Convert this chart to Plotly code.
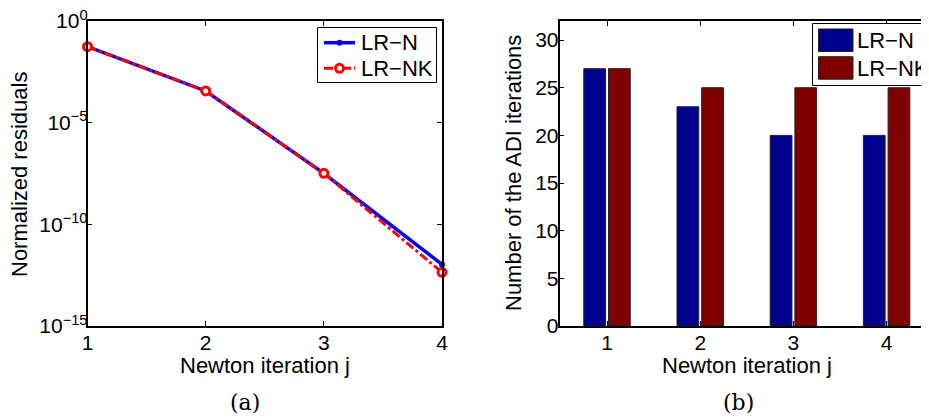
import plotly.graph_objects as go

# ---- data ----
iterations = [1, 2, 3, 4]
res_lrn = [10**-1.26, 10**-3.44, 10**-7.49, 10**-11.97]
res_lrnk = [10**-1.26, 10**-3.44, 10**-7.49, 10**-12.36]
adi_lrn = [27, 23, 20, 20]
adi_lrnk = [27, 25, 25, 25]
log_tickvals = [1, 1e-5, 1e-10, 1e-15]
log_ticktext = ["10<sup>0</sup>", "10<sup>−5</sup>", "10<sup>−10</sup>", "10<sup>−15</sup>"]
bar_ticks = [0, 5, 10, 15, 20, 25, 30]
names = ["LR−N", "LR−NK"]

# page body has an 8px margin: size the figure so it fills the rest of the window
OFF = 8
W, H = 929 - OFF, 419 - OFF


def px(x):
    return (x - OFF) / W


def py(y):
    return 1 - (y - OFF) / H


FONT = "Liberation Sans, Arial, sans-serif"
BLUE_BAR = "#00008F"
RED_BAR = "#800000"
BLUE = "#0000FF"
RED = "#FF0000"

fig = go.Figure()

# left: residuals
fig.add_trace(go.Scatter(
    x=iterations, y=res_lrn, name=names[0], mode="lines+markers",
    line=dict(color=BLUE, width=3.5),
    marker=dict(color=BLUE, size=6, symbol="circle"),
    xaxis="x", yaxis="y", cliponaxis=False, showlegend=False))
fig.add_trace(go.Scatter(
    x=iterations, y=res_lrnk, name=names[1], mode="lines+markers",
    line=dict(color=RED, width=3, dash="dashdot"),
    marker=dict(color="white", size=8, symbol="circle",
                line=dict(color=RED, width=3)),
    xaxis="x", yaxis="y", cliponaxis=False, showlegend=False))

# right: ADI iteration counts
fig.add_trace(go.Bar(
    x=iterations, y=adi_lrn, name=names[0],
    marker=dict(color=BLUE_BAR, line=dict(color="#222222", width=1)),
    xaxis="x2", yaxis="y2", showlegend=False))
fig.add_trace(go.Bar(
    x=iterations, y=adi_lrnk, name=names[1],
    marker=dict(color=RED_BAR, line=dict(color="#222222", width=1)),
    xaxis="x2", yaxis="y2", showlegend=False))

ydom = [py(326), py(21)]
axis_common = dict(showline=True, linecolor="black", linewidth=1.5,
                   ticks="inside", ticklen=5, tickcolor="black",
                   showgrid=False, zeroline=False, automargin=False,
                   ticklabeloverflow="allow",
                   tickfont=dict(size=21, color="black", family=FONT))
TF = dict(size=22, family=FONT, color="black")

fig.update_layout(
    width=W, height=H,
    margin=dict(l=0, r=0, t=0, b=0, autoexpand=False),
    paper_bgcolor="white", plot_bgcolor="white",
    font=dict(family=FONT, size=21, color="black"),
    barmode="group", bargap=0.47, bargroupgap=0.12,
    showlegend=False,
    xaxis=dict(domain=[px(87.5), px(442)], range=[1, 4], tickvals=iterations,
               mirror="ticks", ticklabelstandoff=-3, **axis_common),
    yaxis=dict(domain=ydom, type="log", range=[-15.0003, 0.0003],
               tickvals=log_tickvals, ticktext=log_ticktext, mirror="ticks",
               ticklabelstandoff=-6, **axis_common),
    xaxis2=dict(domain=[px(559.5), 1.0], range=[0.49, 4.455], tickvals=iterations,
                mirror="ticks", anchor="y2", ticklabelstandoff=-3, **axis_common),
    yaxis2=dict(domain=ydom, range=[0, 32], tickvals=bar_ticks, anchor="x2",
                ticklabelstandoff=-5, **axis_common),
)

shapes = []
annotations = []


def text(t, x, y, anchor="left", angle=0, font=TF):
    annotations.append(dict(text=t, xref="paper", yref="paper",
                            x=px(x), y=py(y), xanchor=anchor, yanchor="middle",
                            textangle=angle, showarrow=False, font=font))


# axis titles
text("Newton iteration j", 265, 365, "center")
text("Newton iteration j", 747, 365, "center")
text("Normalized residuals", 19, 175, "center", -90)
text("Number of the ADI iterations", 513, 173, "center", -90)

# left legend
shapes.append(dict(type="rect", xref="paper", yref="paper",
                   x0=px(317.5), x1=px(436.5), y0=py(82.5), y1=py(27.5),
                   line=dict(color="black", width=1), fillcolor="white",
                   layer="above"))
leg_y = [42.7, 68.3]
shapes.append(dict(type="line", xref="paper", yref="paper",
                   x0=px(324), x1=px(355), y0=py(leg_y[0]), y1=py(leg_y[0]),
                   line=dict(color=BLUE, width=3.5), layer="above"))
shapes.append(dict(type="circle", xref="paper", yref="paper",
                   xsizemode="pixel", ysizemode="pixel",
                   xanchor=px(339.5), yanchor=py(leg_y[0]),
                   x0=-3, x1=3, y0=-3, y1=3,
                   line=dict(color=BLUE, width=0), fillcolor=BLUE, layer="above"))
shapes.append(dict(type="line", xref="paper", yref="paper",
                   x0=px(324), x1=px(355), y0=py(leg_y[1]), y1=py(leg_y[1]),
                   line=dict(color=RED, width=3, dash="dashdot"), layer="above"))
shapes.append(dict(type="circle", xref="paper", yref="paper",
                   xsizemode="pixel", ysizemode="pixel",
                   xanchor=px(339.5), yanchor=py(leg_y[1]),
                   x0=-4, x1=4, y0=-4, y1=4,
                   line=dict(color=RED, width=3), fillcolor="white", layer="above"))
for nm, yy in zip(names, leg_y):
    text(nm, 359, yy)

# right legend
shapes.append(dict(type="rect", xref="paper", yref="paper",
                   x0=px(812.5), x1=px(960), y0=py(85.5), y1=py(23.5),
                   line=dict(color="black", width=1), fillcolor="white",
                   layer="above"))
for i, (nm, col) in enumerate(zip(names, [BLUE_BAR, RED_BAR])):
    top = 29 + i * 27.7
    shapes.append(dict(type="rect", xref="paper", yref="paper",
                       x0=px(818.5), x1=px(853), y0=py(top + 22.5), y1=py(top),
                       line=dict(color="#222222", width=1), fillcolor=col,
                       layer="above"))
    text(nm, 855, top + 11.5)

# captions
SERIF = dict(size=22, family="DejaVu Serif, Liberation Serif, serif", color="black")
text("(a)", 245, 402, "center", font=SERIF)
text("(b)", 738, 402, "center", font=SERIF)

fig.update_layout(shapes=shapes, annotations=annotations)

fig.write_html("out.html")
